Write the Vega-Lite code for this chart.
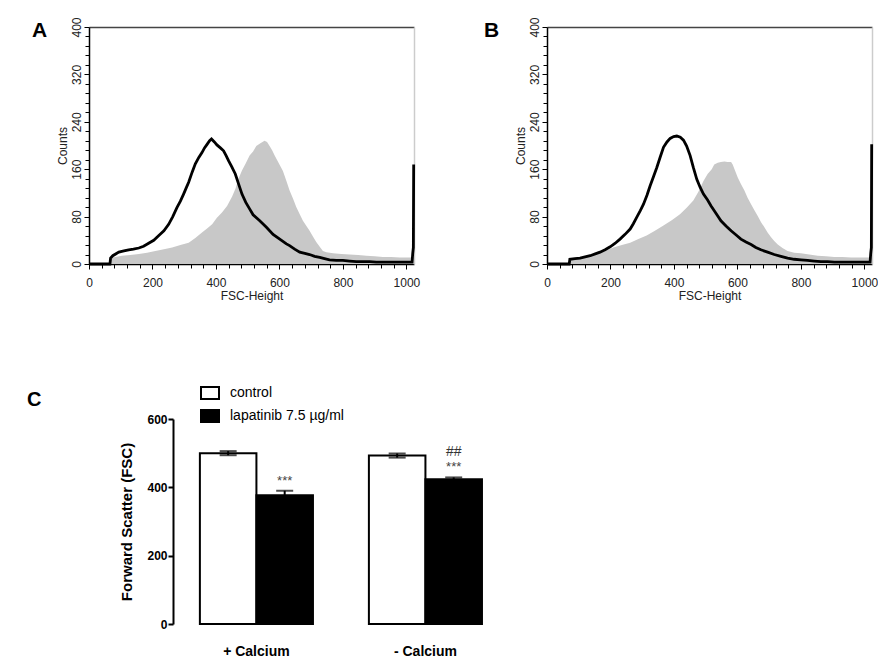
{
  "$schema": "https://vega.github.io/schema/vega-lite/v6.json",
  "background": "white",
  "padding": {"left": 27, "top": 16, "right": 0, "bottom": 0},
  "config": {
    "view": {"stroke": null},
    "font": "Liberation Sans",
    "axis": {"grid": false},
    "title": {"font": "Liberation Sans"}
  },
  "datasets": {
    "histA_fill": [
      {"channel": 66, "count": 0}, {"channel": 68, "count": 10}, {"channel": 75, "count": 11}, {"channel": 104, "count": 14},
      {"channel": 130, "count": 15}, {"channel": 157, "count": 17}, {"channel": 183, "count": 19}, {"channel": 209, "count": 22},
      {"channel": 236, "count": 25}, {"channel": 262, "count": 28}, {"channel": 288, "count": 32}, {"channel": 314, "count": 36},
      {"channel": 335, "count": 44}, {"channel": 356, "count": 53}, {"channel": 372, "count": 60}, {"channel": 388, "count": 67},
      {"channel": 403, "count": 78}, {"channel": 419, "count": 87}, {"channel": 435, "count": 98}, {"channel": 451, "count": 114},
      {"channel": 462, "count": 128}, {"channel": 472, "count": 145}, {"channel": 482, "count": 158}, {"channel": 494, "count": 170},
      {"channel": 506, "count": 183}, {"channel": 517, "count": 190}, {"channel": 527, "count": 199}, {"channel": 540, "count": 204},
      {"channel": 553, "count": 208}, {"channel": 561, "count": 206}, {"channel": 569, "count": 199}, {"channel": 577, "count": 192},
      {"channel": 585, "count": 183}, {"channel": 598, "count": 170}, {"channel": 611, "count": 157}, {"channel": 622, "count": 140},
      {"channel": 632, "count": 124}, {"channel": 643, "count": 110}, {"channel": 653, "count": 96}, {"channel": 664, "count": 84},
      {"channel": 674, "count": 73}, {"channel": 685, "count": 64}, {"channel": 695, "count": 56}, {"channel": 706, "count": 46},
      {"channel": 716, "count": 37}, {"channel": 727, "count": 29}, {"channel": 737, "count": 22}, {"channel": 748, "count": 20},
      {"channel": 769, "count": 18}, {"channel": 795, "count": 17}, {"channel": 821, "count": 16}, {"channel": 848, "count": 15},
      {"channel": 874, "count": 14}, {"channel": 900, "count": 13}, {"channel": 926, "count": 12}, {"channel": 952, "count": 12},
      {"channel": 979, "count": 11}, {"channel": 1005, "count": 11}, {"channel": 1023, "count": 11}
    ],
    "histA_line": [
      {"channel": 0, "count": 0}, {"channel": 66, "count": 0}, {"channel": 68, "count": 10}, {"channel": 75, "count": 14},
      {"channel": 94, "count": 20}, {"channel": 110, "count": 22}, {"channel": 125, "count": 24}, {"channel": 140, "count": 25},
      {"channel": 157, "count": 27}, {"channel": 172, "count": 30}, {"channel": 188, "count": 35}, {"channel": 204, "count": 40},
      {"channel": 220, "count": 48}, {"channel": 236, "count": 56}, {"channel": 251, "count": 67}, {"channel": 264, "count": 80},
      {"channel": 277, "count": 95}, {"channel": 288, "count": 106}, {"channel": 298, "count": 118}, {"channel": 306, "count": 128},
      {"channel": 314, "count": 138}, {"channel": 325, "count": 155}, {"channel": 335, "count": 169}, {"channel": 346, "count": 180},
      {"channel": 356, "count": 188}, {"channel": 364, "count": 196}, {"channel": 372, "count": 202}, {"channel": 380, "count": 208},
      {"channel": 386, "count": 211}, {"channel": 395, "count": 206}, {"channel": 403, "count": 201}, {"channel": 414, "count": 196},
      {"channel": 424, "count": 191}, {"channel": 432, "count": 183}, {"channel": 440, "count": 174}, {"channel": 450, "count": 164},
      {"channel": 461, "count": 152}, {"channel": 472, "count": 134}, {"channel": 482, "count": 118}, {"channel": 494, "count": 104},
      {"channel": 506, "count": 93}, {"channel": 517, "count": 83}, {"channel": 538, "count": 73}, {"channel": 559, "count": 62},
      {"channel": 580, "count": 50}, {"channel": 601, "count": 42}, {"channel": 622, "count": 34}, {"channel": 632, "count": 31},
      {"channel": 648, "count": 25}, {"channel": 664, "count": 20}, {"channel": 680, "count": 18}, {"channel": 695, "count": 16},
      {"channel": 711, "count": 13}, {"channel": 727, "count": 11}, {"channel": 742, "count": 9}, {"channel": 758, "count": 7},
      {"channel": 779, "count": 6}, {"channel": 800, "count": 6}, {"channel": 821, "count": 5}, {"channel": 842, "count": 4},
      {"channel": 863, "count": 4}, {"channel": 884, "count": 4}, {"channel": 905, "count": 3}, {"channel": 926, "count": 3},
      {"channel": 947, "count": 3}, {"channel": 968, "count": 3}, {"channel": 989, "count": 3}, {"channel": 1010, "count": 3},
      {"channel": 1018, "count": 3}, {"channel": 1020, "count": 18}, {"channel": 1022, "count": 28}, {"channel": 1023, "count": 168}
    ],
    "histB_fill": [
      {"channel": 70, "count": 0}, {"channel": 72, "count": 8}, {"channel": 88, "count": 9}, {"channel": 104, "count": 11},
      {"channel": 130, "count": 14}, {"channel": 156, "count": 17}, {"channel": 183, "count": 22}, {"channel": 209, "count": 28},
      {"channel": 236, "count": 32}, {"channel": 262, "count": 36}, {"channel": 288, "count": 42}, {"channel": 314, "count": 48},
      {"channel": 340, "count": 56}, {"channel": 367, "count": 65}, {"channel": 393, "count": 74}, {"channel": 419, "count": 84},
      {"channel": 440, "count": 95}, {"channel": 461, "count": 107}, {"channel": 477, "count": 122}, {"channel": 493, "count": 140},
      {"channel": 506, "count": 152}, {"channel": 519, "count": 160}, {"channel": 527, "count": 168}, {"channel": 538, "count": 171},
      {"channel": 548, "count": 172}, {"channel": 559, "count": 173}, {"channel": 569, "count": 172}, {"channel": 580, "count": 172},
      {"channel": 585, "count": 168}, {"channel": 593, "count": 157}, {"channel": 601, "count": 146}, {"channel": 611, "count": 135},
      {"channel": 622, "count": 124}, {"channel": 632, "count": 112}, {"channel": 643, "count": 101}, {"channel": 653, "count": 91},
      {"channel": 664, "count": 81}, {"channel": 674, "count": 71}, {"channel": 685, "count": 62}, {"channel": 695, "count": 53},
      {"channel": 706, "count": 45}, {"channel": 716, "count": 39}, {"channel": 727, "count": 33}, {"channel": 742, "count": 27},
      {"channel": 758, "count": 22}, {"channel": 779, "count": 19}, {"channel": 800, "count": 18}, {"channel": 826, "count": 16},
      {"channel": 853, "count": 14}, {"channel": 879, "count": 13}, {"channel": 905, "count": 12}, {"channel": 931, "count": 12},
      {"channel": 958, "count": 11}, {"channel": 984, "count": 11}, {"channel": 1010, "count": 11}, {"channel": 1023, "count": 11}
    ],
    "histB_line": [
      {"channel": 0, "count": 0}, {"channel": 70, "count": 0}, {"channel": 72, "count": 8}, {"channel": 88, "count": 9},
      {"channel": 104, "count": 10}, {"channel": 120, "count": 12}, {"channel": 136, "count": 14}, {"channel": 152, "count": 17},
      {"channel": 167, "count": 20}, {"channel": 183, "count": 24}, {"channel": 199, "count": 29}, {"channel": 215, "count": 35},
      {"channel": 230, "count": 42}, {"channel": 246, "count": 50}, {"channel": 262, "count": 59}, {"channel": 272, "count": 68},
      {"channel": 283, "count": 79}, {"channel": 294, "count": 90}, {"channel": 304, "count": 101}, {"channel": 315, "count": 116},
      {"channel": 325, "count": 132}, {"channel": 336, "count": 148}, {"channel": 346, "count": 163}, {"channel": 357, "count": 181},
      {"channel": 367, "count": 197}, {"channel": 378, "count": 206}, {"channel": 388, "count": 212}, {"channel": 399, "count": 215},
      {"channel": 409, "count": 216}, {"channel": 420, "count": 214}, {"channel": 430, "count": 209}, {"channel": 440, "count": 199},
      {"channel": 451, "count": 183}, {"channel": 461, "count": 163}, {"channel": 472, "count": 143}, {"channel": 482, "count": 130},
      {"channel": 493, "count": 118}, {"channel": 506, "count": 108}, {"channel": 517, "count": 98}, {"channel": 527, "count": 90},
      {"channel": 538, "count": 81}, {"channel": 548, "count": 73}, {"channel": 564, "count": 64}, {"channel": 580, "count": 56},
      {"channel": 596, "count": 49}, {"channel": 611, "count": 42}, {"channel": 627, "count": 37}, {"channel": 643, "count": 33},
      {"channel": 658, "count": 28}, {"channel": 674, "count": 24}, {"channel": 695, "count": 20}, {"channel": 716, "count": 16},
      {"channel": 737, "count": 13}, {"channel": 758, "count": 10}, {"channel": 779, "count": 8}, {"channel": 800, "count": 7},
      {"channel": 821, "count": 6}, {"channel": 842, "count": 5}, {"channel": 863, "count": 4}, {"channel": 884, "count": 4},
      {"channel": 905, "count": 3}, {"channel": 947, "count": 3}, {"channel": 989, "count": 3}, {"channel": 1018, "count": 3},
      {"channel": 1020, "count": 18}, {"channel": 1022, "count": 28}, {"channel": 1023, "count": 202}
    ],
    "bars": [
      {"cond": "+ Calcium", "group": "control", "mean": 500, "low": 494, "high": 506},
      {"cond": "+ Calcium", "group": "lapatinib 7.5 µg/ml", "mean": 377, "low": 365, "high": 390},
      {"cond": "- Calcium", "group": "control", "mean": 493, "low": 487, "high": 499},
      {"cond": "- Calcium", "group": "lapatinib 7.5 µg/ml", "mean": 424, "low": 419, "high": 429}
    ],
    "notes": [
      {"cond": "+ Calcium", "group": "lapatinib 7.5 µg/ml", "high": 390, "label": "***"},
      {"cond": "- Calcium", "group": "lapatinib 7.5 µg/ml", "high": 429, "label": "***"},
      {"cond": "- Calcium", "group": "lapatinib 7.5 µg/ml", "high": 429, "label": "##"}
    ]
  },
  "columns": 2,
  "bounds": "flush",
  "align": "all",
  "spacing": {"row": 155, "column": 38},
  "resolve": {"legend": {"fill": "independent"}},
  "concat": [
    {
      "width": 325, "height": 237,
      "title": {"text": "A", "anchor": "start", "frame": "group", "fontSize": 21, "fontWeight": "bold", "color": "black", "dx": -57, "dy": 41, "offset": 0, "baseline": "alphabetic"},
      "layer": [
        {
          "data": {"name": "histA_fill"},
          "mark": {"type": "area", "color": "#c8c8c8"},
          "encoding": {
            "x": {"field": "channel", "type": "quantitative", "scale": {"domain": [0, 1024], "nice": false, "zero": false},
              "axis": {"orient": "bottom", "values": [0,40,80,120,160,200,240,280,320,360,400,440,480,520,560,600,640,680,720,760,800,840,880,920,960,1000],
                "labelExpr": "datum.value % 200 === 0 ? datum.label : ''", "format": "d", "labelFlush": false, "labelOverlap": false,
                "labelFontSize": 12, "labelColor": "#222", "labelPadding": 8,
                "tickSize": {"condition": {"test": "datum.value % 200 === 0", "value": 5}, "value": 4}, "tickColor": "black",
                "domainColor": "black", "domainWidth": 1.5,
                "title": "FSC-Height", "titleFontSize": 12, "titleFontWeight": "normal", "titleColor": "#222", "titlePadding": 2}},
            "y": {"field": "count", "type": "quantitative", "scale": {"domain": [0, 400], "nice": false},
              "axis": {"orient": "left", "values": [0,16,32,48,64,80,96,112,128,144,160,176,192,208,224,240,256,272,288,304,320,336,352,368,384,400],
                "labelExpr": "datum.value % 80 === 0 ? datum.label : ''", "labelOverlap": false, "labelFlush": false,
                "labelAngle": 270, "labelAlign": "center", "labelBaseline": "bottom", "labelFontSize": 12, "labelColor": "#222", "labelPadding": 1,
                "tickSize": {"condition": {"test": "datum.value % 80 === 0", "value": 5}, "value": 4}, "tickColor": "black",
                "domainColor": "black", "domainWidth": 1.5,
                "title": "Counts", "titleFontSize": 12, "titleFontWeight": "normal", "titleColor": "#222", "titlePadding": 1}}
          }
        },
        {
          "data": {"name": "histA_line"},
          "mark": {"type": "line", "color": "black", "strokeWidth": 2.8},
          "encoding": {
            "x": {"field": "channel", "type": "quantitative", "scale": {"domain": [0, 1024], "nice": false, "zero": false},
              "axis": {"orient": "top", "ticks": false, "labels": false, "title": null, "domainColor": "#444", "domainWidth": 1.5}},
            "y": {"field": "count", "type": "quantitative", "scale": {"domain": [0, 400], "nice": false},
              "axis": {"orient": "right", "ticks": false, "labels": false, "title": null, "domainColor": "#cccccc", "domainWidth": 1.5}}
          }
        }
      ],
      "resolve": {"axis": {"x": "independent", "y": "independent"}}
    },
    {
      "width": 325, "height": 237,
      "title": {"text": "B", "anchor": "start", "frame": "group", "fontSize": 21, "fontWeight": "bold", "color": "black", "dx": -63, "dy": 41, "offset": 0, "baseline": "alphabetic"},
      "layer": [
        {
          "data": {"name": "histB_fill"},
          "mark": {"type": "area", "color": "#c8c8c8"},
          "encoding": {
            "x": {"field": "channel", "type": "quantitative", "scale": {"domain": [0, 1024], "nice": false, "zero": false},
              "axis": {"orient": "bottom", "values": [0,40,80,120,160,200,240,280,320,360,400,440,480,520,560,600,640,680,720,760,800,840,880,920,960,1000],
                "labelExpr": "datum.value % 200 === 0 ? datum.label : ''", "format": "d", "labelFlush": false, "labelOverlap": false,
                "labelFontSize": 12, "labelColor": "#222", "labelPadding": 8,
                "tickSize": {"condition": {"test": "datum.value % 200 === 0", "value": 5}, "value": 4}, "tickColor": "black",
                "domainColor": "black", "domainWidth": 1.5,
                "title": "FSC-Height", "titleFontSize": 12, "titleFontWeight": "normal", "titleColor": "#222", "titlePadding": 2}},
            "y": {"field": "count", "type": "quantitative", "scale": {"domain": [0, 400], "nice": false},
              "axis": {"orient": "left", "values": [0,16,32,48,64,80,96,112,128,144,160,176,192,208,224,240,256,272,288,304,320,336,352,368,384,400],
                "labelExpr": "datum.value % 80 === 0 ? datum.label : ''", "labelOverlap": false, "labelFlush": false,
                "labelAngle": 270, "labelAlign": "center", "labelBaseline": "bottom", "labelFontSize": 12, "labelColor": "#222", "labelPadding": 1,
                "tickSize": {"condition": {"test": "datum.value % 80 === 0", "value": 5}, "value": 4}, "tickColor": "black",
                "domainColor": "black", "domainWidth": 1.5,
                "title": "Counts", "titleFontSize": 12, "titleFontWeight": "normal", "titleColor": "#222", "titlePadding": 1}}
          }
        },
        {
          "data": {"name": "histB_line"},
          "mark": {"type": "line", "color": "black", "strokeWidth": 2.8},
          "encoding": {
            "x": {"field": "channel", "type": "quantitative", "scale": {"domain": [0, 1024], "nice": false, "zero": false},
              "axis": {"orient": "top", "ticks": false, "labels": false, "title": null, "domainColor": "#444", "domainWidth": 1.5}},
            "y": {"field": "count", "type": "quantitative", "scale": {"domain": [0, 400], "nice": false},
              "axis": {"orient": "right", "ticks": false, "labels": false, "title": null, "domainColor": "#cccccc", "domainWidth": 1.5}}
          }
        }
      ],
      "resolve": {"axis": {"x": "independent", "y": "independent"}}
    },
    {
      "width": 420, "height": 205,
      "title": {"text": "C", "anchor": "start", "frame": "group", "fontSize": 20, "fontWeight": "bold", "color": "black", "dx": -62, "dy": 43, "offset": 0, "baseline": "alphabetic"},
      "layer": [
        {
          "data": {"name": "bars"},
          "mark": {"type": "bar", "stroke": "black", "strokeWidth": 2},
          "encoding": {
            "x": {"field": "cond", "type": "nominal", "sort": ["+ Calcium", "- Calcium"],
              "scale": {"paddingInner": 0.331, "paddingOuter": 0.408, "align": 0.804},
              "axis": {"title": null, "domain": false, "ticks": false, "labelAngle": 0, "labelFontSize": 14, "labelFontWeight": "bold", "labelColor": "black", "labelPadding": 20}},
            "xOffset": {"field": "group", "type": "nominal", "sort": ["control", "lapatinib 7.5 µg/ml"], "scale": {"paddingInner": 0, "paddingOuter": 0}},
            "y": {"field": "mean", "type": "quantitative", "scale": {"domain": [0, 600], "nice": false},
              "axis": {"values": [0, 200, 400, 600], "offset": -84, "labelFontSize": 12, "labelFontWeight": "bold", "labelColor": "black", "labelPadding": 1,
                "tickSize": 5, "tickWidth": 2, "tickColor": "black", "domainColor": "black", "domainWidth": 2,
                "title": "Forward Scatter (FSC)", "titleFontSize": 15, "titleFontWeight": "bold", "titleColor": "black", "titlePadding": 12}},
            "fill": {"field": "group", "type": "nominal", "scale": {"domain": ["control", "lapatinib 7.5 µg/ml"], "range": ["white", "black"]},
              "legend": {"orient": "none", "legendX": 111, "legendY": -36, "title": null, "symbolType": "M-1,-0.667H1V0.667H-1Z", "symbolSize": 324,
                "symbolStrokeColor": "black", "symbolStrokeWidth": 2, "labelFontSize": 14, "labelColor": "black", "rowPadding": 1, "labelOffset": 10}}
          }
        },
        {
          "data": {"name": "bars"},
          "mark": {"type": "rule", "color": "black", "strokeWidth": 2},
          "encoding": {
            "x": {"field": "cond", "type": "nominal", "sort": ["+ Calcium", "- Calcium"]},
            "xOffset": {"field": "group", "type": "nominal", "sort": ["control", "lapatinib 7.5 µg/ml"]},
            "y": {"field": "low", "type": "quantitative"},
            "y2": {"field": "high"}
          }
        },
        {
          "data": {"name": "bars"},
          "mark": {"type": "tick", "color": "black", "thickness": 2, "size": 17},
          "encoding": {
            "x": {"field": "cond", "type": "nominal", "sort": ["+ Calcium", "- Calcium"]},
            "xOffset": {"field": "group", "type": "nominal", "sort": ["control", "lapatinib 7.5 µg/ml"]},
            "y": {"field": "low", "type": "quantitative"}
          }
        },
        {
          "data": {"name": "bars"},
          "mark": {"type": "tick", "color": "black", "thickness": 2, "size": 17},
          "encoding": {
            "x": {"field": "cond", "type": "nominal", "sort": ["+ Calcium", "- Calcium"]},
            "xOffset": {"field": "group", "type": "nominal", "sort": ["control", "lapatinib 7.5 µg/ml"]},
            "y": {"field": "high", "type": "quantitative"}
          }
        },
        {
          "data": {"name": "notes"},
          "transform": [{"filter": "datum.label === '***'"}],
          "mark": {"type": "text", "fontSize": 13, "color": "#444", "baseline": "alphabetic", "dy": -6},
          "encoding": {
            "x": {"field": "cond", "type": "nominal", "sort": ["+ Calcium", "- Calcium"]},
            "xOffset": {"field": "group", "type": "nominal", "sort": ["control", "lapatinib 7.5 µg/ml"]},
            "y": {"field": "high", "type": "quantitative"},
            "text": {"field": "label"}
          }
        },
        {
          "data": {"name": "notes"},
          "transform": [{"filter": "datum.label === '##'"}],
          "mark": {"type": "text", "fontSize": 14, "color": "#333", "baseline": "alphabetic", "dy": -21},
          "encoding": {
            "x": {"field": "cond", "type": "nominal", "sort": ["+ Calcium", "- Calcium"]},
            "xOffset": {"field": "group", "type": "nominal", "sort": ["control", "lapatinib 7.5 µg/ml"]},
            "y": {"field": "high", "type": "quantitative"},
            "text": {"field": "label"}
          }
        }
      ]
    }
  ]
}
